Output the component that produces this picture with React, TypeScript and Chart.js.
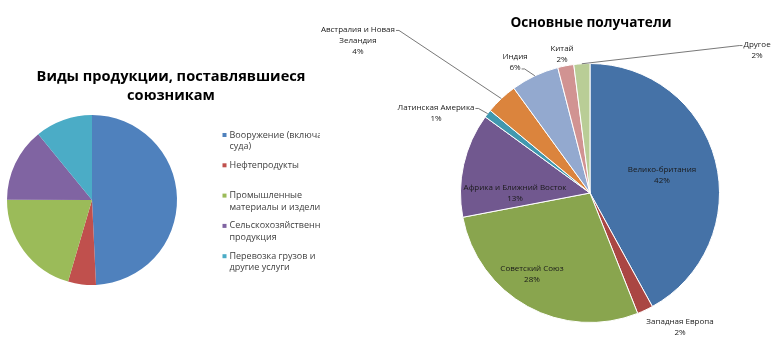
import React, { useEffect, useRef } from "react";
import { Chart, registerables } from "chart.js";

Chart.register(...registerables);

// ---------- Data ----------
const productTitle: string[] = ["Виды продукции, поставлявшиеся", "союзникам"];
const productCategories: string[][] = [
  ["Вооружение (включая", "суда)"],
  ["Нефтепродукты"],
  ["Промышленные", "материалы и изделия"],
  ["Сельскохозяйственная", "продукция"],
  ["Перевозка грузов и", "другие услуги"],
];
const productShares: number[] = [49.3, 5.3, 20.5, 14.1, 10.9];
const productColors: string[] = ["#4F81BD", "#C0504D", "#9BBB59", "#8064A2", "#4BACC6"];

const recipientTitle = "Основные получатели";
const recipientCategories: string[][] = [
  ["Велико-британия"],
  ["Западная Европа"],
  ["Советский Союз"],
  ["Африка и Ближний Восток"],
  ["Латинская Америка"],
  ["Австралия и Новая", "Зеландия"],
  ["Индия"],
  ["Китай"],
  ["Другое"],
];
const recipientShares: number[] = [42, 2, 28, 13, 1, 4, 6, 2, 2];
const recipientColors: string[] = [
  "#4572A7", "#AA4643", "#89A54E", "#71588F", "#4198AF",
  "#DB843D", "#93A9CF", "#D19392", "#B9CD96",
];

// label placement (relative to pie centre, in units of the radius)
type LabelLayout = { dx: number; dy: number; leader?: "right" | "rightLast" | "left" };
const recipientLabelLayout: LabelLayout[] = [
  { dx: 0.556, dy: -0.135 },
  { dx: 0.695, dy: 1.039 },
  { dx: -0.448, dy: 0.629 },
  { dx: -0.579, dy: 0 },
  { dx: -1.189, dy: -0.618, leader: "right" },
  { dx: -1.792, dy: -1.178, leader: "right" },
  { dx: -0.579, dy: -1.008, leader: "rightLast" },
  { dx: -0.216, dy: -1.073 },
  { dx: 1.29, dy: -1.104, leader: "left" },
];

const FONT = "'Open Sans', 'Noto Sans', 'DejaVu Sans', sans-serif";
const W = 773;
const H = 353;
const LEFT_W = 320;

const productOverlay = {
  id: "productOverlay",
  afterDraw(chart: any) {
    const ctx: CanvasRenderingContext2D = chart.ctx;
    ctx.save();
    // title
    ctx.fillStyle = "#000";
    ctx.font = `bold 14.6px ${FONT}`;
    ctx.textAlign = "center";
    ctx.textBaseline = "middle";
    productTitle.forEach((t, i) => ctx.fillText(t, 171, 77 + i * 18.5));
    // legend
    ctx.font = `9px ${FONT}`;
    ctx.textAlign = "left";
    const labels = chart.data.labels as string[][];
    const colors = chart.data.datasets[0].backgroundColor as string[];
    labels.forEach((lines, i) => {
      const y0 = 135 + i * 30.3;
      ctx.fillStyle = colors[i];
      ctx.fillRect(222.5, y0 - 2, 4, 4);
      ctx.fillStyle = "#404040";
      lines.forEach((ln, j) => ctx.fillText(ln, 229.5, y0 + j * 11.5));
    });
    ctx.restore();
  },
};

const recipientOverlay = {
  id: "recipientOverlay",
  afterDraw(chart: any) {
    const ctx: CanvasRenderingContext2D = chart.ctx;
    ctx.save();
    ctx.fillStyle = "#000";
    ctx.font = `bold 13.6px ${FONT}`;
    ctx.textAlign = "center";
    ctx.textBaseline = "middle";
    ctx.fillText(recipientTitle, 591, 23);

    const meta = chart.getDatasetMeta(0);
    const values = chart.data.datasets[0].data as number[];
    const total = values.reduce((a, b) => a + b, 0);
    const labels = chart.data.labels as string[][];
    ctx.font = `8px ${FONT}`;
    const lh = 11;
    meta.data.forEach((arc: any, i: number) => {
      const p = arc.getProps(["x", "y", "startAngle", "endAngle", "outerRadius"], true);
      const lay = recipientLabelLayout[i];
      const lines = [...labels[i], `${Math.round((values[i] / total) * 100)}%`];
      const bx = p.x + lay.dx * p.outerRadius;
      const by = p.y + lay.dy * p.outerRadius;
      const ys = lines.map((_, k) => by + (k - (lines.length - 1) / 2) * lh);
      ctx.fillStyle = "#1a1a1a";
      lines.forEach((ln, k) => ctx.fillText(ln, bx, ys[k]));
      if (lay.leader) {
        const mid = (p.startAngle + p.endAngle) / 2;
        const ax = p.x + Math.cos(mid) * p.outerRadius;
        const ay = p.y + Math.sin(mid) * p.outerRadius;
        let sx: number, sy: number, hx: number;
        if (lay.leader === "left") {
          const w = ctx.measureText(lines[0]).width;
          sx = bx - w / 2 - 1;
          sy = ys[0] + 1;
          hx = sx - 3;
        } else {
          const idx = lay.leader === "rightLast" ? lines.length - 1 : 0;
          const w = ctx.measureText(lines[idx]).width;
          sx = bx + w / 2 + 1;
          sy = ys[idx] + 1;
          hx = sx + 3;
        }
        ctx.strokeStyle = "#555";
        ctx.lineWidth = 0.8;
        ctx.beginPath();
        ctx.moveTo(sx, sy);
        ctx.lineTo(hx, sy);
        ctx.lineTo(ax, ay);
        ctx.stroke();
      }
    });
    ctx.restore();
  },
};

export default function App() {
  const leftRef = useRef<HTMLCanvasElement | null>(null);
  const rightRef = useRef<HTMLCanvasElement | null>(null);

  useEffect(() => {
    const left = new Chart(leftRef.current as HTMLCanvasElement, {
      type: "pie",
      data: {
        labels: productCategories as any,
        datasets: [
          {
            data: productShares,
            backgroundColor: productColors,
            borderWidth: 0,
          },
        ],
      },
      options: {
        responsive: false,
        animation: false,
        layout: { padding: { left: 7, right: 143, top: 115, bottom: 68 } },
        plugins: {
          legend: { display: false },
          title: { display: false },
          tooltip: { enabled: false },
        },
      },
      plugins: [productOverlay],
    });

    const right = new Chart(rightRef.current as HTMLCanvasElement, {
      type: "pie",
      data: {
        labels: recipientCategories as any,
        datasets: [
          {
            data: recipientShares,
            backgroundColor: recipientColors,
            borderColor: "#ffffff",
            borderWidth: 1,
          },
        ],
      },
      options: {
        responsive: false,
        animation: false,
        layout: { padding: { left: 460, right: 53, top: 63, bottom: 30 } },
        plugins: {
          legend: { display: false },
          title: { display: false },
          tooltip: { enabled: false },
        },
      },
      plugins: [recipientOverlay],
    });

    return () => {
      left.destroy();
      right.destroy();
    };
  }, []);

  return (
    <div
      style={{
        position: "fixed",
        left: 0,
        top: 0,
        width: W,
        height: H,
        background: "#fff",
        overflow: "hidden",
      }}
    >
      <canvas
        ref={leftRef}
        width={LEFT_W}
        height={H}
        style={{ position: "absolute", left: 0, top: 0, width: LEFT_W, height: H }}
      />
      <canvas
        ref={rightRef}
        width={W}
        height={H}
        style={{ position: "absolute", left: 0, top: 0, width: W, height: H }}
      />
    </div>
  );
}
